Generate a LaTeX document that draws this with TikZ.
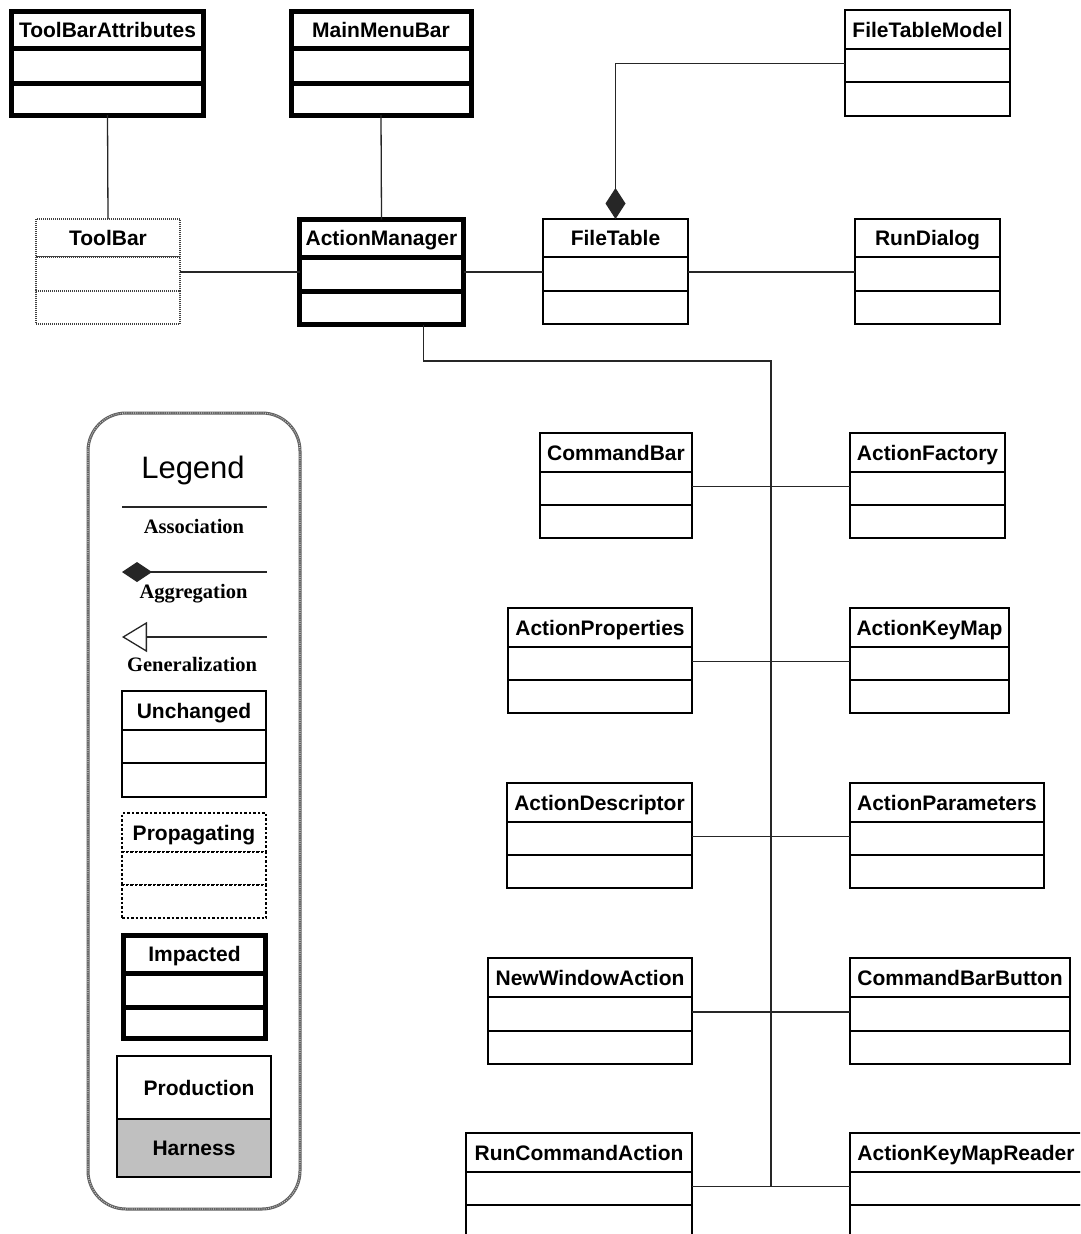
\documentclass[tikz,border=0pt]{standalone}
\usepackage{fontspec}
\setmainfont{Liberation Sans}
\newfontfamily\serifface{Liberation Serif}
\usetikzlibrary{arrows.meta,calc}

\definecolor{harnessgray}{HTML}{C0C0C0}

% one UML class: [style]{id}{left}{right}{top}{1st rule}{2nd rule}{bottom}{name}
\newcommand{\umlclass}[9][]{%
  \node[classpart,#1,minimum width=#4-#3,minimum height=#6-#5,anchor=north west] (#2) at (#3,#5) {#9};
  \node[classpart,#1,minimum width=#4-#3,minimum height=#7-#6,anchor=north west] (#2-a) at (#3,#6) {};
  \node[classpart,#1,minimum width=#4-#3,minimum height=#8-#7,anchor=north west] (#2-o) at (#3,#7) {};
}

\begin{document}
\begin{tikzpicture}[x=1pt,y=-1pt,
  classpart/.style={draw=black,line width=1.8pt,inner sep=0pt,outer sep=0pt,fill=white,
    font=\fontsize{21}{21}\selectfont\bfseries,text height=15pt,text depth=0pt},
  impacted/.style={line width=5pt},
  propagating/.style={draw=black!75,line width=1.1pt,dash pattern=on 1pt off 1pt},
  propdash/.style={line width=1.4pt,dash pattern=on 2.5pt off 2pt},
  assoc/.style={draw=black!85,line width=1.3pt},
  legendlabel/.style={font=\serifface\bfseries\fontsize{20.5}{20.5}\selectfont,anchor=base,inner sep=0pt},
]
\useasboundingbox (0,0) rectangle (1080,1234);
\fill[white] (0,0) rectangle (1080,1234);
\clip (0,0) rectangle (1080,1234);

% ---------- legend ----------
\draw[gray!75!black,line width=3pt,rounded corners=38pt,fill=white] (88,413) rectangle (300,1209);
\draw[white!55!gray,line width=1.2pt,rounded corners=38pt,dash pattern=on 0.8pt off 1.4pt] (88,413) rectangle (300,1209);
\node[anchor=base,inner sep=0pt,font=\fontsize{31}{31}\selectfont] (legendtitle) at (193,478) {Legend};

\coordinate (assocL) at (122,507);
\coordinate (assocR) at (267,507);
\draw[assoc] (assocL) -- (assocR);
\node[legendlabel] (assoclbl) at (194,533.5) {Association};

\coordinate (aggL) at (122,572);
\coordinate (aggR) at (267,572);
\draw[assoc,{Diamond[length=30pt,width=20pt]}-] (aggL) -- (aggR);
\node[legendlabel] (agglbl) at (193.5,598.5) {Aggregation};

\coordinate (genL) at (122,637);
\coordinate (genR) at (267,637);
\draw[assoc,{Triangle[open,length=25pt,width=30pt,fill=white]}-] (genL) -- (genR);
\node[legendlabel] (genlbl) at (192,671.5) {Generalization};

\umlclass{lu}{122}{266}{691}{730}{763}{797}{Unchanged}
\umlclass[propdash]{lp}{122}{266}{813}{852}{885}{918}{Propagating}
\umlclass[impacted]{li}{123.5}{265.5}{935}{973}{1007}{1038}{Impacted}
\node[classpart,minimum width=154,minimum height=63,anchor=north west] (prod) at (117,1056) {\hspace{10pt}Production};
\node[classpart,fill=harnessgray,minimum width=154,minimum height=58,anchor=north west] (harness) at (117,1119) {Harness};

% ---------- classes, top area ----------
\umlclass[impacted]{tba}{11.5}{203.5}{11}{48}{83}{115}{ToolBarAttributes}
\umlclass[impacted]{mmb}{291}{471}{11}{48}{83}{115}{MainMenuBar}
\umlclass{ftm}{845}{1010}{10}{49}{82}{116}{FileTableModel}
\umlclass[propagating]{tb}{36}{180}{219}{257}{291}{324}{ToolBar}
\umlclass[impacted]{am}{299.5}{463.5}{219.5}{257}{291}{324.5}{ActionManager}
\umlclass{ft}{543}{688}{219}{257}{291}{324}{FileTable}
\umlclass{rd}{855}{1000}{219}{257}{291}{324}{RunDialog}

% ---------- classes, two columns ----------
\umlclass{cb}{540}{692}{433}{472}{505}{538}{CommandBar}
\umlclass{af}{850}{1005}{433}{472}{505}{538}{ActionFactory}
\umlclass{ap}{508}{692}{608}{647}{680}{713}{ActionProperties}
\umlclass{akm}{850}{1009}{608}{647}{680}{713}{ActionKeyMap}
\umlclass{ad}{507}{692}{783}{822}{855}{888}{ActionDescriptor}
\umlclass{apar}{850}{1044}{783}{822}{855}{888}{ActionParameters}
\umlclass{nwa}{488}{692}{958}{997}{1031}{1064}{NewWindowAction}
\umlclass{cbb}{850}{1070}{958}{997}{1031}{1064}{CommandBarButton}
\umlclass{rca}{466}{692}{1133}{1172}{1205}{1238}{RunCommandAction}
\umlclass{akmr}{850}{1082}{1133}{1172}{1205}{1238}{ActionKeyMapReader}

% ---------- connectors ----------
\draw[assoc] (tba-o.south) -- (tb.north);
\draw[assoc] (mmb-o.south) -- (am.north);
\draw[assoc] ([yshift=2pt]tb-a.east) -- ([yshift=2pt]am-a.west);
\draw[assoc] ([yshift=2pt]am-a.east) -- ([yshift=2pt]ft-a.west);
\draw[assoc] ([yshift=2pt]ft-a.east) -- ([yshift=2pt]rd-a.west);
\draw[assoc,-{Diamond[length=31pt,width=20pt]}] ([yshift=2pt]ftm-a.west) -| (ft.north);

\coordinate (amfoot) at ($(am-o.south east)+(-40,0)$);
\coordinate (bustop) at (771,361);
\draw[assoc] (amfoot) |- (bustop) |- ([yshift=2pt]rca-a.east);

\draw[assoc] ([yshift=2pt]cb-a.east) -- ([yshift=2pt]af-a.west);
\draw[assoc] ([yshift=2pt]ap-a.east) -- ([yshift=2pt]akm-a.west);
\draw[assoc] ([yshift=2pt]ad-a.east) -- ([yshift=2pt]apar-a.west);
\draw[assoc] ([yshift=2pt]nwa-a.east) -- ([yshift=2pt]cbb-a.west);
\draw[assoc] ([yshift=2pt]rca-a.east) -- ([yshift=2pt]akmr-a.west);
\end{tikzpicture}
\end{document}
